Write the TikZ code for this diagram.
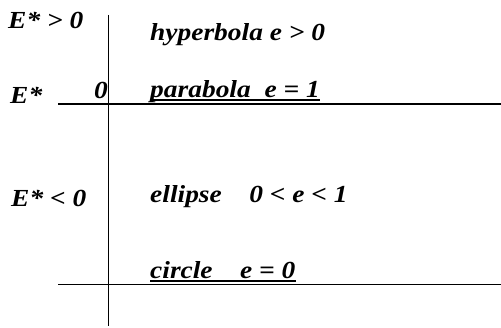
\documentclass[tikz,border=0pt]{standalone}
\usepackage{fontspec}
\setmainfont{Liberation Serif}
\newcommand{\wlbl}[1]{\scalebox{1.12}[1]{#1}}
\begin{document}
\begin{tikzpicture}[x=1pt,y=-1pt,
  lbl/.style={font=\fontsize{24.5}{26}\selectfont\bfseries\itshape, inner sep=0pt, anchor=base west},
  axis/.style={line width=0.9pt},
  uline/.style={line width=1.3pt},
  thick axis/.style={line width=2.6pt}]
\useasboundingbox (0,0) rectangle (501,328);
% axes
\coordinate (vtop) at (108,15);
\coordinate (vbot) at (108,326);
\coordinate (h1l) at (58,104);
\coordinate (h1r) at (501,104);
\coordinate (h2l) at (58,284);
\coordinate (h2r) at (501,284);
\draw[axis] (vtop) -- (vbot);
\draw[thick axis] (h1l) -- (h1r);
\draw[axis] (h2l) -- (h2r);
% left labels
\node[lbl] (epos) at (8,29) {\wlbl{E* > 0}};
\node[lbl] (ezero) at (10,104) {\wlbl{E*}};
\node[lbl] (zero) at (94,99) {\wlbl{0}};
\node[lbl] (eneg) at (11,207) {\wlbl{E* < 0}};
% right labels
\node[lbl] (hyp) at (150,41) {\wlbl{hyperbola e > 0}};
\node[lbl] (par) at (150,98) {\wlbl{parabola\ \ e = 1}};
\node[lbl] (ell) at (150,203) {\wlbl{ellipse\ \ \ \ 0 < e < 1}};
\node[lbl] (cir) at (150,279) {\wlbl{circle\ \ \ \ e = 0}};
% underlines
\draw[uline] (par.base west) ++(0,2) -- ([yshift=-2pt]par.base east);
\draw[uline] (cir.base west) ++(0,2) -- ([yshift=-2pt]cir.base east);
\end{tikzpicture}
\end{document}
